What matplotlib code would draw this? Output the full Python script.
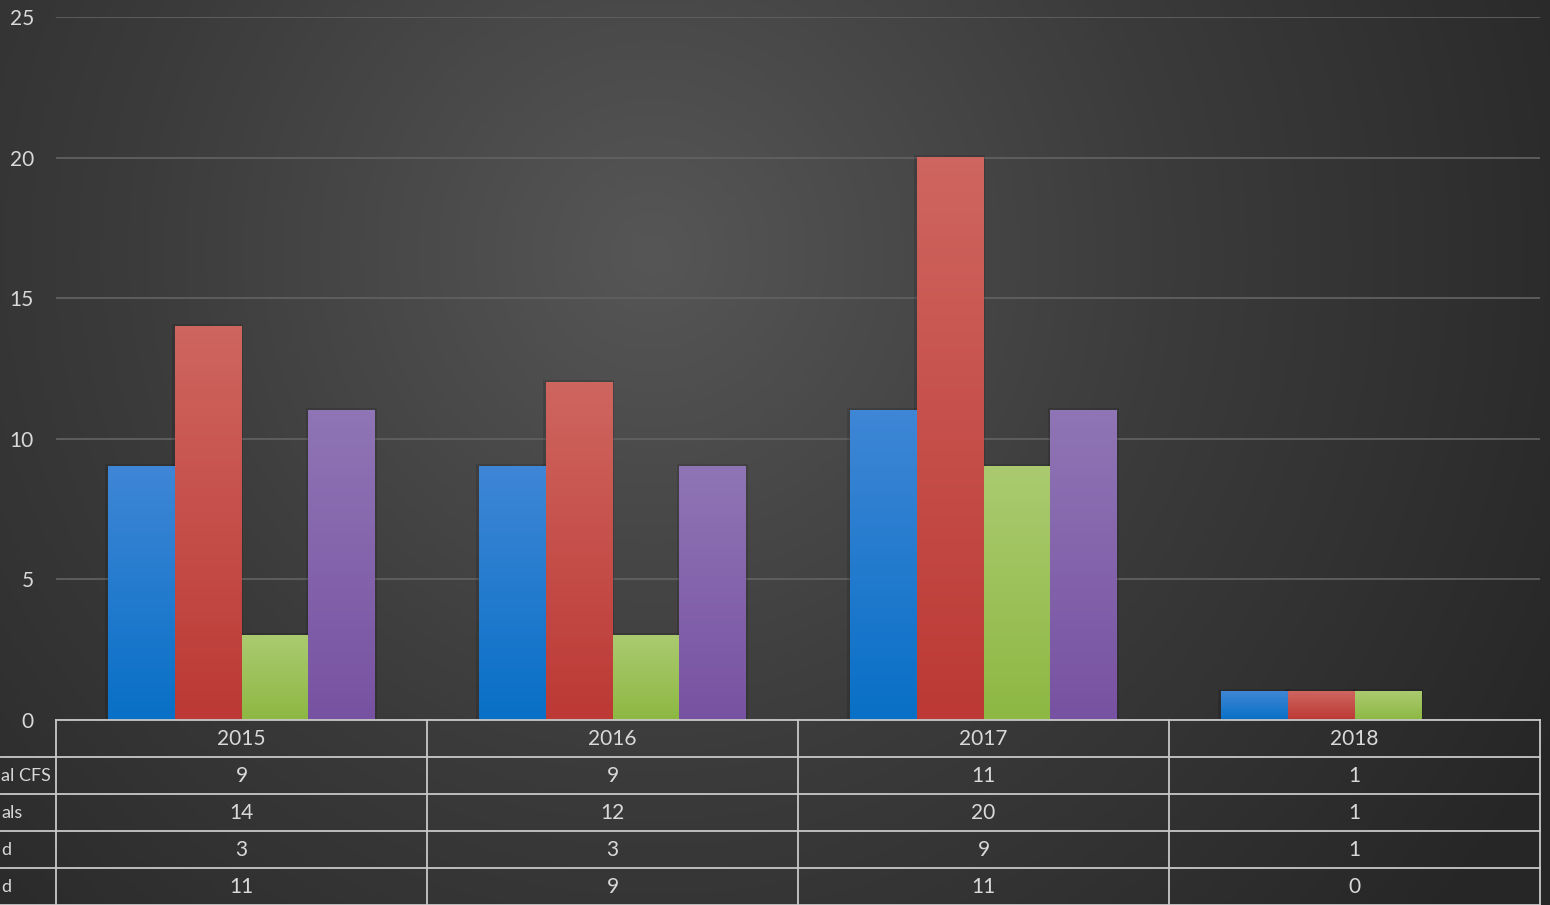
import numpy as np
import matplotlib
matplotlib.use('Agg')
import matplotlib.pyplot as plt
from matplotlib.colors import LinearSegmentedColormap

plt.rcParams['font.family'] = ['Lato', 'DejaVu Sans']

# data
years = ['2015', '2016', '2017', '2018']
row_labels = ['al CFS', 'als', 'd', 'd']   # row names are cut off at the left edge
series_1 = [9, 9, 11, 1]
series_2 = [14, 12, 20, 1]
series_3 = [3, 3, 9, 1]
series_4 = [11, 9, 11, 0]
all_series = [series_1, series_2, series_3, series_4]

# (top, bottom) colour of each bar gradient
bar_colors = [('#3f86d6', '#0870c6'),
              ('#cf655f', '#bc3935'),
              ('#abca70', '#8db843'),
              ('#8f75b5', '#7852a2')]

text_color = '#d9d9d9'
line_color = '#c8c8c8'
grid_color = '#606060'

W, H = 1550, 905
fig = plt.figure(figsize=(W / 100, H / 100), dpi=100)

# radial background gradient
bg_ax = fig.add_axes([0, 0, 1, 1])
bg_ax.set_axis_off()
yy, xx = np.mgrid[0:1:300j, 0:1:500j]
r = np.sqrt(((xx - 0.42) * 1.7) ** 2 + ((yy - 0.72) * 1.0) ** 2)
r = np.clip(r / 1.15, 0, 1)
bg_cmap = LinearSegmentedColormap.from_list('bg', ['#565656', '#3b3b3b', '#262626'])
bg_ax.imshow(r, cmap=bg_cmap, origin='lower', extent=[0, 1, 0, 1], aspect='auto',
             vmin=0, vmax=1)
bg_ax.set_xlim(0, 1)
bg_ax.set_ylim(0, 1)

# plot area
left, right = 56 / W, 1540 / W
bottom, top = (H - 720) / H, (H - 17) / H
ax = fig.add_axes([left, bottom, right - left, top - bottom])
ax.patch.set_alpha(0)

n_cat = len(years)
n_ser = len(all_series)
bar_w = 0.18
x = np.arange(n_cat)

for i, vals in enumerate(all_series):
    cmap = LinearSegmentedColormap.from_list('s%d' % i, [bar_colors[i][1], bar_colors[i][0]])
    grad = np.linspace(0, 1, 100).reshape(-1, 1)
    for j, v in enumerate(vals):
        if v <= 0:
            continue
        x0 = x[j] + (i - n_ser / 2) * bar_w
        # soft dark shadow behind the bar
        ax.add_patch(plt.Rectangle((x0 - 0.007, 0), bar_w + 0.012, v + 0.1,
                                   facecolor='black', alpha=0.12, edgecolor='none', zorder=2))
        ax.imshow(grad, cmap=cmap, origin='lower', aspect='auto',
                  extent=[x0, x0 + bar_w, 0, v], zorder=3)

ax.set_xlim(-0.5, n_cat - 0.5)
ax.set_ylim(0, 25)
ax.set_yticks(np.arange(0, 26, 5))
ax.yaxis.grid(True, color=grid_color, linewidth=1.3)
ax.set_axisbelow(True)
ax.set_xticks([])
for s in ax.spines.values():
    s.set_visible(False)
ax.tick_params(axis='y', length=0, pad=16, labelsize=15, labelcolor=text_color)

# data table under the axis
ax_h_px = 720 - 17
row_h = 37 / ax_h_px
n_rows = len(all_series) + 1
tab_bottom = -n_rows * row_h
left_edge = -56 / (1540 - 56)

for k in range(n_rows + 1):
    y = -k * row_h
    x_start = 0 if k == 0 else left_edge
    ax.plot([x_start, 1], [y, y], transform=ax.transAxes, color=line_color,
            linewidth=1.3, clip_on=False, zorder=5)
for k in range(n_cat + 1):
    xv = k / n_cat
    ax.plot([xv, xv], [0, tab_bottom], transform=ax.transAxes, color=line_color,
            linewidth=1.3, clip_on=False, zorder=5)

for j, yr in enumerate(years):
    ax.text((j + 0.5) / n_cat, -0.5 * row_h, yr, transform=ax.transAxes,
            ha='center', va='center', fontsize=15, color=text_color)
    for i, vals in enumerate(all_series):
        ax.text((j + 0.5) / n_cat, -(i + 1.5) * row_h, str(vals[j]),
                transform=ax.transAxes, ha='center', va='center',
                fontsize=15, color=text_color)

for i, lab in enumerate(row_labels):
    ax.text((1 - 56) / (1540 - 56), -(i + 1.5) * row_h, lab,
            transform=ax.transAxes, ha='left', va='center', fontsize=13,
            color=text_color)

fig.savefig('out.png', dpi=100)
